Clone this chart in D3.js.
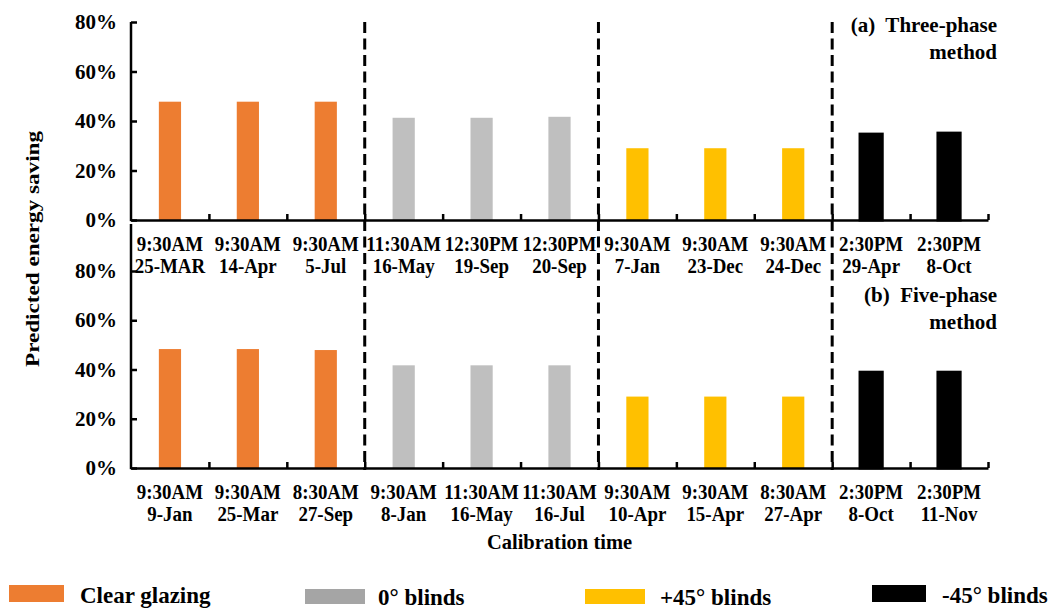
<!DOCTYPE html>
<html>
<head>
<meta charset="utf-8">
<script src="https://cdn.jsdelivr.net/npm/d3@7"></script>
<style>
  html, body { margin: 0; padding: 0; background: #fff; }
  svg text { font-family: "Liberation Serif", "Times New Roman", Tinos, "DejaVu Serif", serif; font-weight: bold; fill: #000; }
</style>
</head>
<body>
<svg id="chart" width="1053" height="610"></svg>
<script>
// ---------- data ----------
const groups = ["Clear glazing", "0° blinds", "+45° blinds", "-45° blinds"];
const groupOf = [0, 0, 0, 1, 1, 1, 2, 2, 2, 3, 3];
const barColors = ["#ED7D31", "#BFBFBF", "#FFC000", "#000000"];
const legendColors = ["#ED7D31", "#A5A5A5", "#FFC000", "#000000"];

const timesTop = ["9:30AM", "9:30AM", "9:30AM", "11:30AM", "12:30PM", "12:30PM", "9:30AM", "9:30AM", "9:30AM", "2:30PM", "2:30PM"];
const datesTop = ["25-MAR", "14-Apr", "5-Jul", "16-May", "19-Sep", "20-Sep", "7-Jan", "23-Dec", "24-Dec", "29-Apr", "8-Oct"];
const valuesTop = [47.8, 47.8, 47.8, 41.3, 41.3, 41.7, 29.0, 29.0, 29.0, 34.7, 35.1];

const timesBottom = ["9:30AM", "9:30AM", "8:30AM", "9:30AM", "11:30AM", "11:30AM", "9:30AM", "9:30AM", "8:30AM", "2:30PM", "2:30PM"];
const datesBottom = ["9-Jan", "25-Mar", "27-Sep", "8-Jan", "16-May", "16-Jul", "10-Apr", "15-Apr", "27-Apr", "8-Oct", "11-Nov"];
const valuesBottom = [48.3, 48.3, 47.9, 41.7, 41.7, 41.7, 29.0, 29.0, 29.0, 38.9, 38.9];

const yTicks = [0, 20, 40, 60, 80];
const separators = [3, 6, 9];

// ---------- layout ----------
const FONT = '"Liberation Serif", "Times New Roman", Tinos, "DejaVu Serif", serif';
const svg = d3.select("#chart");
const X0 = 131, X1 = 988;
const n = timesTop.length;
const x = d3.scaleBand().domain(d3.range(n)).range([X0, X1]).padding(0);
const xb = d3.scaleLinear().domain([0, n]).range([X0, X1]);
const barW = x.bandwidth() * 0.285;

const panels = [
  { times: timesTop, dates: datesTop, values: valuesTop, y: d3.scaleLinear().domain([0, 80]).range([220, 22]),
    axisTop: 22, title: ["(a)  Three-phase", "method"], titleY: [32, 59] },
  { times: timesBottom, dates: datesBottom, values: valuesBottom, y: d3.scaleLinear().domain([0, 80]).range([468, 271]),
    axisTop: 224, title: ["(b)  Five-phase", "method"], titleY: [302, 329] }
];

panels.forEach(p => {
  const g = svg.append("g");
  const y0 = p.y(0);

  // bars
  g.selectAll("rect.bar").data(p.values).join("rect")
    .attr("class", "bar")
    .attr("x", (d, i) => x(i) + (x.bandwidth() - barW) / 2)
    .attr("width", barW)
    .attr("y", d => p.y(d))
    .attr("height", d => y0 - p.y(d))
    .attr("fill", (d, i) => barColors[groupOf[i]])
    .attr("stroke", (d, i) => groupOf[i] === 3 ? "#000" : "none")
    .attr("stroke-width", 3);

  // y axis
  const ya = g.append("g").attr("transform", `translate(${X0},0)`)
    .call(d3.axisLeft(p.y).tickValues(yTicks).tickSizeInner(-6).tickSizeOuter(0).tickPadding(14).tickFormat(d => d + "%"));
  ya.select(".domain").remove();
  ya.selectAll(".tick line").attr("stroke", "#000").attr("stroke-width", 2.5);
  ya.selectAll(".tick text").style("font-size", "21px").style("font-family", FONT).style("font-weight", "bold")
    .attr("fill", "#000").attr("dy", "0.32em");
  g.append("line").attr("x1", X0).attr("x2", X0).attr("y1", p.axisTop).attr("y2", y0 + 1.2)
    .attr("stroke", "#000").attr("stroke-width", 2.5);

  // x axis
  const xa = g.append("g").attr("transform", `translate(0,${y0})`)
    .call(d3.axisBottom(xb).tickValues(d3.range(1, n + 1)).tickSizeInner(-6).tickSizeOuter(0).tickFormat(""));
  xa.select(".domain").attr("stroke", "#000").attr("stroke-width", 2.5);
  xa.selectAll(".tick line").attr("stroke", "#000").attr("stroke-width", 2.5);

  // category labels (two lines)
  const lab = g.selectAll("g.lab").data(d3.range(n)).join("g")
    .attr("class", "lab")
    .attr("transform", i => `translate(${x(i) + x.bandwidth() / 2},${y0}) scale(0.88,1)`);
  lab.append("text").attr("text-anchor", "middle").attr("y", 31).style("font-size", "21.5px").text(i => p.times[i]);
  lab.append("text").attr("text-anchor", "middle").attr("y", 53).style("font-size", "21.5px").text(i => p.dates[i]);

  // panel title
  p.title.forEach((t, k) => {
    g.append("text").attr("x", 997).attr("y", p.titleY[k]).attr("text-anchor", "end")
      .style("font-size", "21px").style("white-space", "pre").attr("xml:space", "preserve").text(t);
  });
});

// dashed separators
svg.selectAll("line.sep").data(separators).join("line")
  .attr("class", "sep")
  .attr("x1", d => xb(d)).attr("x2", d => xb(d))
  .attr("y1", 22).attr("y2", 470)
  .attr("stroke", "#000").attr("stroke-width", 3)
  .attr("stroke-dasharray", "11,5.5");

// axis titles
svg.append("text")
  .attr("transform", "translate(39,249) rotate(-90)")
  .attr("text-anchor", "middle")
  .style("font-size", "19px")
  .attr("textLength", 236).attr("lengthAdjust", "spacingAndGlyphs")
  .text("Predicted energy saving");

svg.append("text")
  .attr("x", (X0 + X1) / 2).attr("y", 549)
  .attr("text-anchor", "middle")
  .style("font-size", "20.5px")
  .text("Calibration time");

// legend
const legendPos = [
  { rx: 9, ry: 585, rw: 55, rh: 17, tx: 80, ty: 603 },
  { rx: 305, ry: 589, rw: 60, rh: 15, tx: 378, ty: 605 },
  { rx: 585, ry: 589, rw: 60, rh: 15, tx: 660, ty: 605 },
  { rx: 872, ry: 585, rw: 54, rh: 17, tx: 942, ty: 603 }
];
const lg = svg.selectAll("g.leg").data(groups).join("g").attr("class", "leg");
lg.append("rect")
  .attr("x", (d, i) => legendPos[i].rx).attr("y", (d, i) => legendPos[i].ry)
  .attr("width", (d, i) => legendPos[i].rw).attr("height", (d, i) => legendPos[i].rh)
  .attr("fill", (d, i) => legendColors[i]);
lg.append("text")
  .attr("x", (d, i) => legendPos[i].tx).attr("y", (d, i) => legendPos[i].ty)
  .style("font-size", "23px")
  .text(d => d);
</script>
</body>
</html>
